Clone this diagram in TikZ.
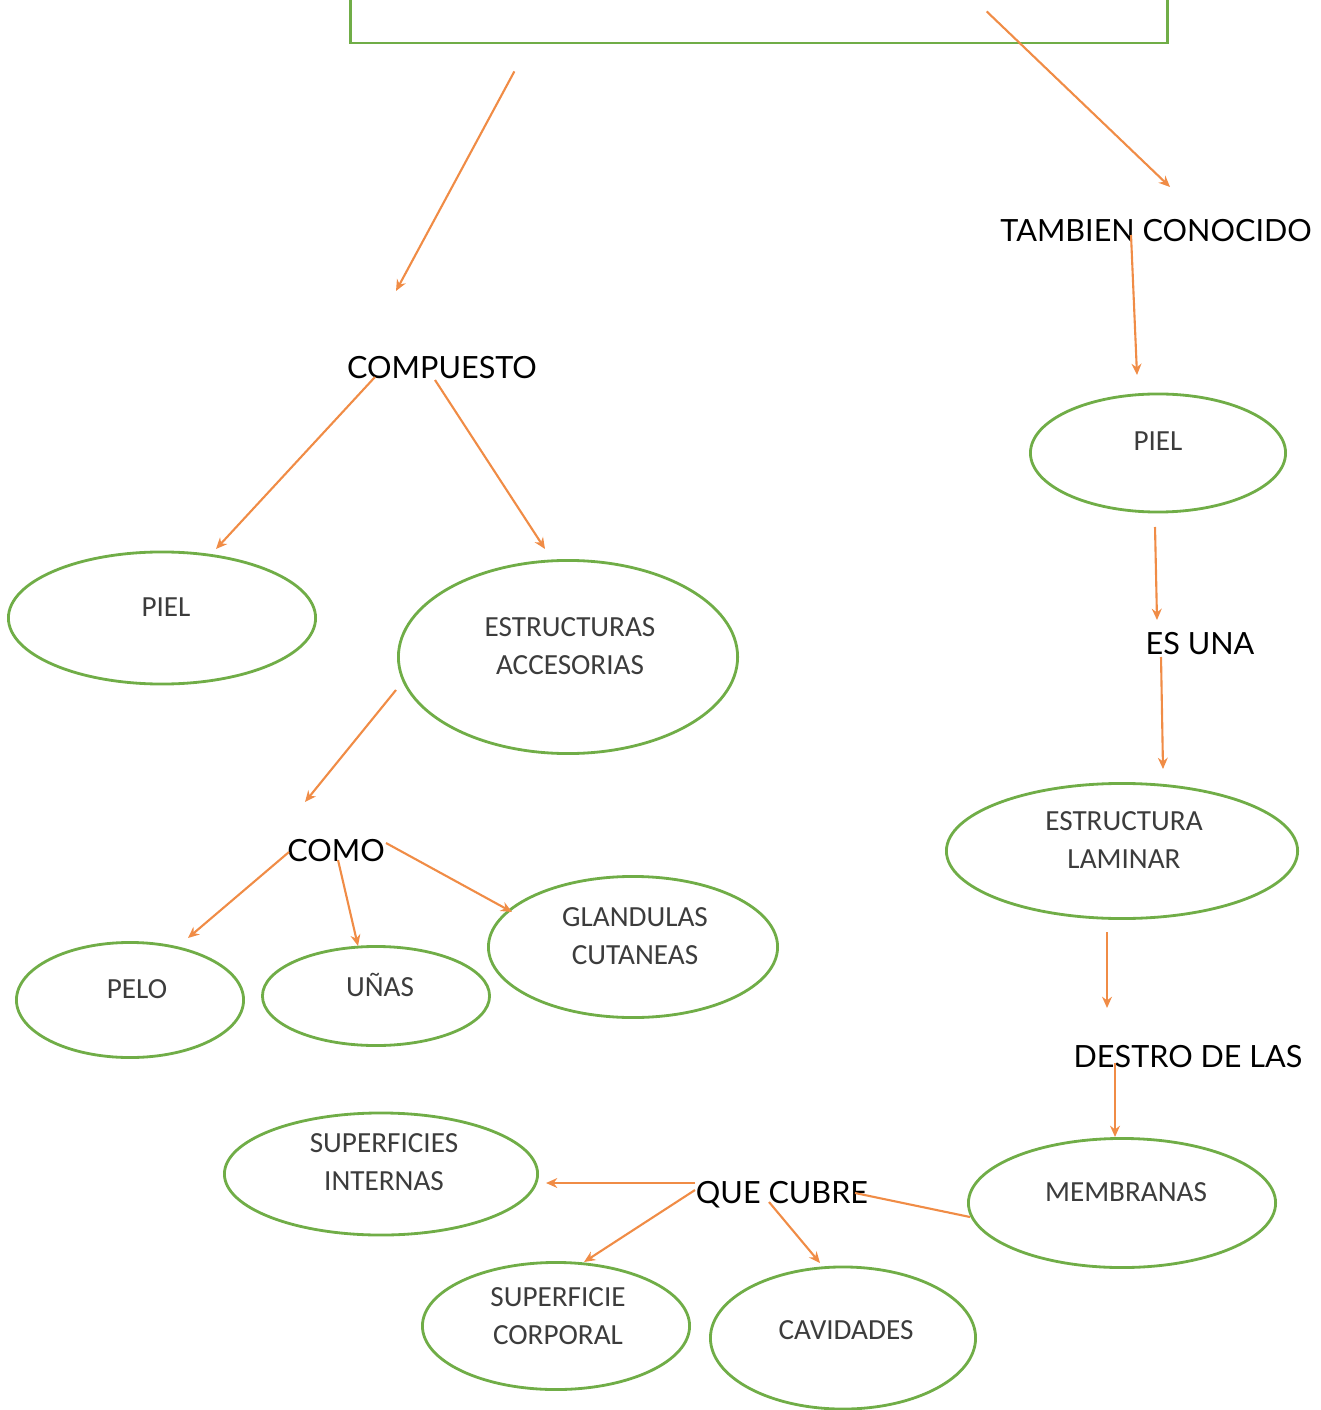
\documentclass[tikz,border=0pt]{standalone}
\usepackage{fontspec}
\setmainfont{Carlito}
\newfontfamily\enlace{Lato}
\usetikzlibrary{arrows.meta,calc,shapes.geometric}

\begin{document}
\begin{tikzpicture}[x=0.01cm,y=-0.01cm,
    every node/.style={font=\fontsize{8.3}{10.8}\selectfont},
    elipse/.style={draw=verdeborde, line width=0.8pt, ellipse, inner sep=0pt},
    texto/.style={text=grisletra, align=center, inner sep=0pt},
    palabra/.style={font=\enlace\fontsize{8.7}{10}\selectfont, inner sep=0pt},
    flecha/.style={draw=naranja, line width=0.6pt, -{Stealth[length=3.2pt,width=2.8pt]}},
    linea/.style={draw=naranja, line width=0.6pt}]

    % colores
    \definecolor{verdeborde}{RGB}{112,173,71}  % bordes verdes
    \definecolor{naranja}{RGB}{240,140,70}     % flechas
    \definecolor{grisletra}{RGB}{60,60,60}     % texto de las elipses

    % marco de la hoja
    \useasboundingbox (0,0) rectangle (1320,1410);

    % --- recuadro superior (cortado) ---
    \node[draw=verdeborde, line width=0.8pt, minimum width=8.16cm, minimum height=0.63cm,
          inner sep=0pt] (caja) at (759,11.5) {};

    % --- palabras de enlace ---
    \node[palabra] (compuesto) at (442,368) {COMPUESTO};
    \node[palabra] (tambien) at (1156,231) {TAMBIEN CONOCIDO};
    \node[palabra] (esuna) at (1200,644) {ES UNA};
    \node[palabra] (destro) at (1188,1057) {DESTRO DE LAS};
    \node[palabra] (como) at (336,851) {COMO};
    \node[palabra] (quecubre) at (782,1195) {QUE CUBRE};

    % --- elipses, rama izquierda ---
    \node[elipse, minimum width=3.07cm, minimum height=1.32cm] (pielA) at (162,618) {};
    \node[texto] (pielA-t) at (166,607) {PIEL};

    \node[elipse, minimum width=3.39cm, minimum height=1.93cm] (accesorias) at (568,657) {};
    \node[texto] (accesorias-t) at (570,646) {ESTRUCTURAS\\ACCESORIAS};

    \node[elipse, minimum width=2.27cm, minimum height=1.15cm] (pelo) at (130,1000) {};
    \node[texto] (pelo-t) at (137,989) {PELO};

    \node[elipse, minimum width=2.27cm, minimum height=0.99cm] (unas) at (376,996) {};
    \node[texto] (unas-t) at (380,985) {UÑAS};

    \node[elipse, minimum width=2.89cm, minimum height=1.41cm] (glandulas) at (633,947) {};
    \node[texto] (glandulas-t) at (635,936) {GLANDULAS\\CUTANEAS};

    % --- elipses, rama derecha ---
    \node[elipse, minimum width=2.55cm, minimum height=1.18cm] (pielB) at (1158,453) {};
    \node[texto] (pielB-t) at (1158,441) {PIEL};

    \node[elipse, minimum width=3.51cm, minimum height=1.35cm] (laminar) at (1122,851) {};
    \node[texto] (laminar-t) at (1124,840) {ESTRUCTURA\\LAMINAR};

    \node[elipse, minimum width=3.07cm, minimum height=1.29cm] (membranas) at (1122,1203) {};
    \node[texto] (membranas-t) at (1126,1192) {MEMBRANAS};

    % --- elipses de abajo ---
    \node[elipse, minimum width=3.13cm, minimum height=1.22cm] (internas) at (381,1174) {};
    \node[texto] (internas-t) at (384,1162) {SUPERFICIES\\INTERNAS};

    \node[elipse, minimum width=2.67cm, minimum height=1.27cm] (corporal) at (556,1326) {};
    \node[texto] (corporal-t) at (558,1316) {SUPERFICIE\\CORPORAL};

    \node[elipse, minimum width=2.65cm, minimum height=1.42cm] (cavidades) at (843,1338) {};
    \node[texto] (cavidades-t) at (846,1330) {CAVIDADES};

    % --- flechas ---
    \draw[flecha] ($(caja.south west)+(165,27)$) -- ($(compuesto)+(-46,-77)$);
    \draw[flecha] ($(caja.south east)+(-182,-33)$) -- ($(tambien)+(14,-44)$);

    \draw[flecha] ($(tambien)+(-25,4)$) -- ($(pielB)+(-21,-78)$);
    \draw[flecha] ($(pielB)+(-3,74)$) -- ($(esuna)+(-43,-24)$);
    \draw[flecha] ($(esuna)+(-39,13)$) -- ($(laminar)+(41,-82)$);
    \draw[flecha] ($(laminar)+(-15,81)$) -- ($(destro)+(-81,-49)$);
    \draw[flecha] ($(destro)+(-73,6)$) -- ($(membranas)+(-7,-66)$);
    \draw[linea] ($(membranas)+(-152,14)$) -- ($(quecubre)+(73,-2)$);

    \draw[flecha] ($(quecubre)+(-87,-12)$) -- ($(internas)+(165,9)$);
    \draw[flecha] ($(quecubre)+(-87,-5)$) -- ($(corporal)+(28,-64)$);
    \draw[flecha] ($(quecubre)+(-13,7)$) -- ($(cavidades)+(-23,-75)$);

    \draw[flecha] ($(compuesto)+(-67,9)$) -- ($(pielA)+(54,-69)$);
    \draw[flecha] ($(compuesto)+(-7,12)$) -- ($(accesorias)+(-23,-108)$);
    \draw[flecha] ($(accesorias)+(-172,33)$) -- ($(como)+(-31,-49)$);

    \draw[flecha] ($(como)+(-47,1)$) -- ($(pelo)+(58,-62)$);
    \draw[flecha] ($(como)+(2,9)$) -- ($(unas)+(-18,-50)$);
    \draw[flecha] ($(como)+(50,-8)$) -- ($(glandulas)+(-121,-35)$);
\end{tikzpicture}
\end{document}
